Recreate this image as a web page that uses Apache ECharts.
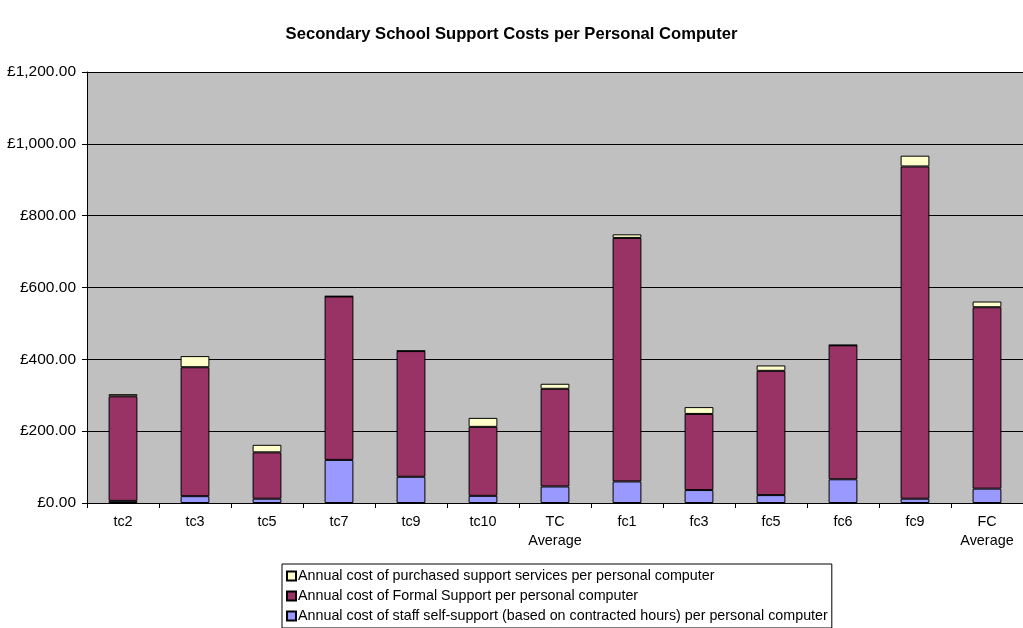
<!DOCTYPE html>
<html><head><meta charset="utf-8">
<script src="https://cdn.jsdelivr.net/npm/echarts@6/dist/echarts.min.js"></script>
<style>html,body{margin:0;padding:0;background:#fff}#c{width:1023px;height:628px}</style>
</head><body><div id="c"></div>
<script>
const categories = ['tc2','tc3','tc5','tc7','tc9','tc10','TC\nAverage','fc1','fc3','fc5','fc6','fc9','FC\nAverage'];
const selfSupport = [6, 19, 12, 120, 73, 20, 46, 60, 36, 22, 66, 12, 40];
const formalSupport = [291, 359, 129, 455, 350, 192, 272, 678, 212, 346, 373, 925, 505];
const purchased = [6, 31, 21, 1, 1, 25, 14, 10, 19, 15, 1, 30, 16];
const seriesNames = [
  'Annual cost of purchased support services per personal computer',
  'Annual cost of Formal Support per personal computer',
  'Annual cost of staff self-support (based on contracted hours) per personal computer'
];
const yTicks = [0, 200, 400, 600, 800, 1000, 1200];

const font = 'Arial, "Liberation Sans", sans-serif';
const chart = echarts.init(document.getElementById('c'), null, {renderer: 'canvas'});
function fmt(v){ return '£' + v.toLocaleString('en-GB',{minimumFractionDigits:2, maximumFractionDigits:2}); }
const barStyle = c => ({color: c, borderColor: '#000', borderWidth: 1});
chart.setOption({
  animation: false,
  backgroundColor: '#fff',
  title: {text: 'Secondary School Support Costs per Personal Computer', left: 'center', top: 21,
    textStyle: {fontFamily: font, fontSize: 16.6, fontWeight: 'bold', color: '#000'}},
  grid: {left: 87, right: 0, top: 72, height: 431, show: true, backgroundColor: '#C0C0C0', borderWidth: 0},
  legend: {orient: 'vertical', left: 282, top: 564, 
    data: [seriesNames[0], seriesNames[1], seriesNames[2]],
    itemWidth: 9, itemHeight: 9, itemGap: 4, padding: [4, 4, 4, 4],
    borderColor: '#000', borderWidth: 1, backgroundColor: '#fff',
    textStyle: {fontFamily: font, fontSize: 14.3, color: '#000', padding: [0,0,0,-3], lineHeight: 16},
    icon: 'rect'},
  xAxis: {type: 'category', data: categories,
    axisLine: {lineStyle: {color: '#000'}},
    axisTick: {show: true, alignWithLabel: false, length: 5, lineStyle: {color: '#000'}},
    axisLabel: {fontFamily: font, fontSize: 14.4, color: '#000', margin: 10, lineHeight: 19, interval: 0}},
  yAxis: {type: 'value', min: 0, max: 1200, interval: 200,
    axisLine: {show: true, lineStyle: {color: '#000'}},
    axisTick: {show: true, length: 5, lineStyle: {color: '#000'}},
    splitLine: {lineStyle: {color: '#000', width: 1}},
    axisLabel: {fontFamily: font, fontSize: 15.5, color: '#000', margin: 11,
      formatter: v => yTicks.includes(v) ? fmt(v) : ''}},
  series: [
    {name: seriesNames[2], type: 'bar', stack: 's', data: selfSupport, barWidth: '40%', itemStyle: barStyle('#9999FF')},
    {name: seriesNames[1], type: 'bar', stack: 's', data: formalSupport, barWidth: '40%', itemStyle: barStyle('#993366')},
    {name: seriesNames[0], type: 'bar', stack: 's', data: purchased, barWidth: '40%', itemStyle: barStyle('#FFFFCC')}
  ]
});
</script></body></html>
